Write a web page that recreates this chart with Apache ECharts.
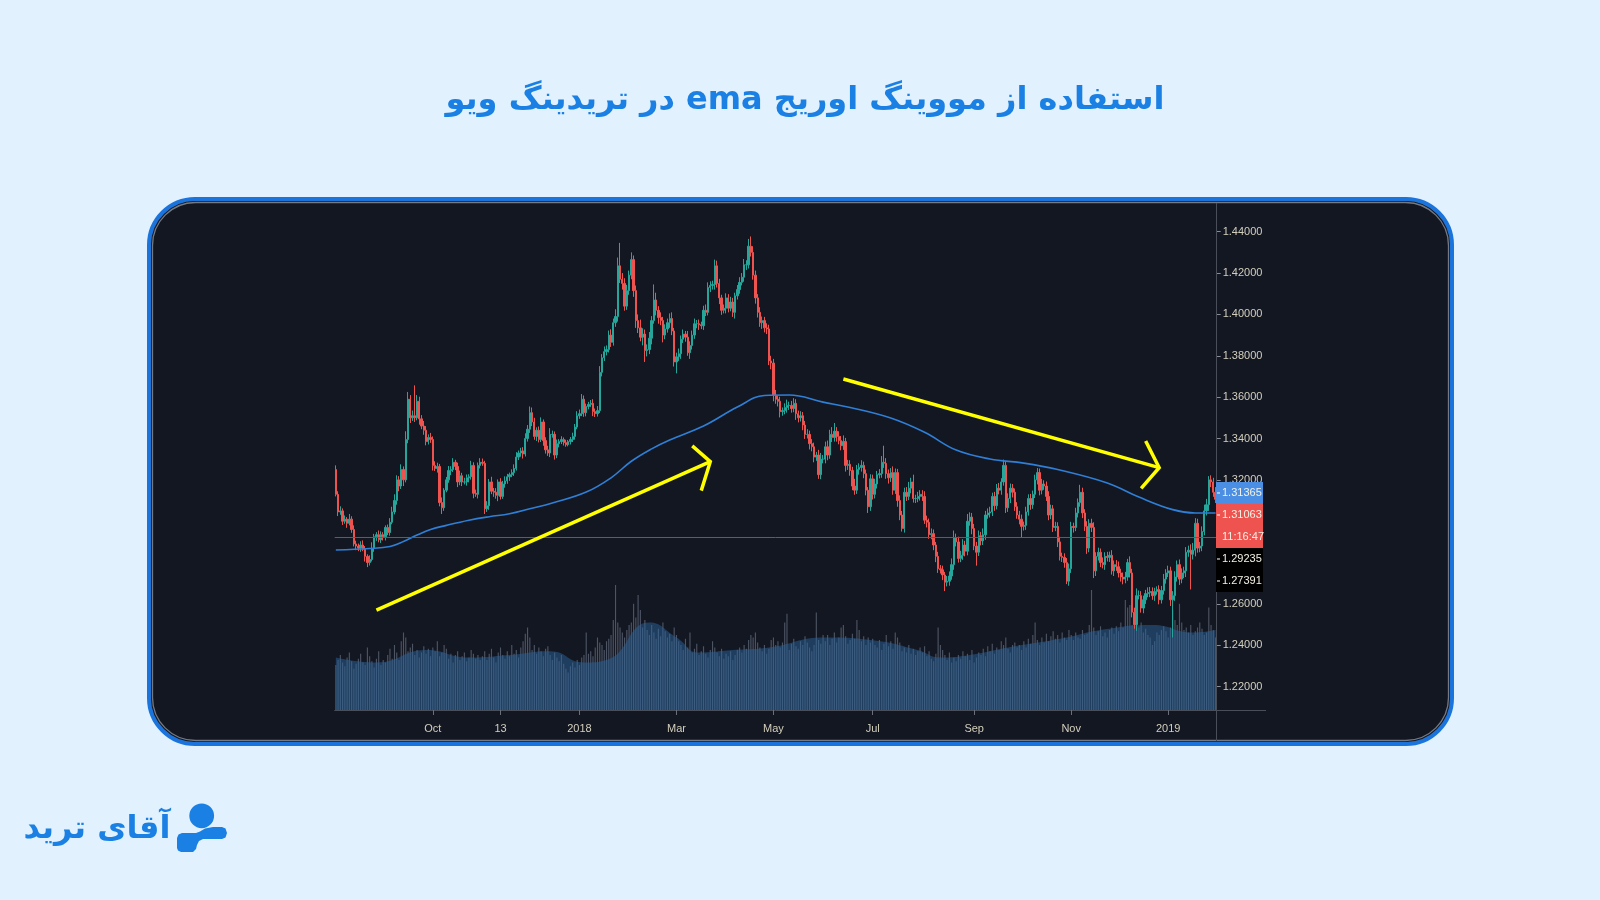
<!DOCTYPE html>
<html>
<head>
<meta charset="utf-8">
<script src="https://cdn.jsdelivr.net/npm/echarts@6/dist/echarts.min.js"></script>
<style>html,body{margin:0;padding:0;background:#e1f1fd;}#c{width:1600px;height:900px;}</style>
</head>
<body>
<div id="c"></div>
<script>
// ---------- DATA (GBP/USD daily, Aug 2017 - Jan 2019) ----------
const startDate = [2017, 7, 2];
const firstOpen = 1.3250;
const closes = [
  // Aug 2017
  1.3130,1.3045,1.3050,1.3000,1.3010,1.2990,1.3010,1.2960,1.2890,1.2880,1.2870,1.2885,1.2865,1.2830,1.2800,1.2815,1.2870,1.2925,1.2935,1.2910,1.2935,1.2925,
  // Sep 2017
  1.2970,1.2945,1.2995,1.3045,1.3100,1.3200,1.3170,1.3250,1.3200,1.3395,1.3590,1.3500,1.3510,1.3500,1.3580,1.3495,1.3460,1.3440,1.3385,1.3405,1.3395,
  // Oct 2017
  1.3270,1.3255,1.3265,1.3090,1.3065,1.3150,1.3200,1.3245,1.3250,1.3285,1.3265,1.3190,1.3220,1.3190,1.3190,1.3210,1.3215,1.3270,1.3135,1.3130,1.3270,1.3285,
  // Nov 2017
  1.3280,1.3060,1.3075,1.3190,1.3145,1.3140,1.3125,1.3190,1.3120,1.3180,1.3195,1.3215,1.3225,1.3235,1.3255,1.3310,1.3330,1.3340,1.3325,1.3400,1.3445,1.3525,
  // Dec 2017
  1.3480,1.3410,1.3440,1.3395,1.3480,1.3390,1.3345,1.3330,1.3420,1.3420,1.3320,1.3375,1.3385,1.3395,1.3380,1.3370,1.3385,1.3395,1.3410,1.3455,1.3510,
  // Jan 2018
  1.3520,1.3590,1.3525,1.3555,1.3565,1.3570,1.3530,1.3520,1.3535,1.3720,1.3790,1.3820,1.3830,1.3900,1.3865,1.3960,1.3990,1.4235,1.4170,1.4150,1.4040,1.4115,1.4190,
  // Feb 2018
  1.4265,1.4115,1.3970,1.3935,1.3890,1.3905,1.3825,1.3830,1.3885,1.3970,1.4070,1.4020,1.3985,1.3970,1.3900,1.3930,1.3960,1.3980,1.3920,1.3770,
  // Mar 2018
  1.3795,1.3810,1.3880,1.3905,1.3890,1.3815,1.3850,1.3900,1.3955,1.3955,1.3950,1.3945,1.4020,1.4010,1.4130,1.4140,1.4145,1.4235,1.4150,1.4080,1.4020,1.4030,
  // Apr 2018
  1.4080,1.4030,1.4060,1.4010,1.4090,1.4120,1.4155,1.4180,1.4240,1.4240,1.4330,1.4300,1.4190,1.4080,1.4010,1.3960,1.3970,1.3935,1.3930,1.3775,1.3765,
  // May 2018
  1.3610,1.3590,1.3580,1.3530,1.3535,1.3550,1.3560,1.3560,1.3545,1.3570,1.3520,1.3500,1.3510,1.3465,1.3420,1.3420,1.3375,1.3360,1.3310,1.3320,1.3225,1.3300,1.3300,
  // Jun 2018
  1.3360,1.3320,1.3420,1.3405,1.3435,1.3410,1.3390,1.3365,1.3385,1.3270,1.3275,1.3245,1.3170,1.3150,1.3250,1.3260,1.3270,1.3230,1.3150,1.3070,1.3205,
  // Jul 2018
  1.3130,1.3180,1.3225,1.3230,1.3285,1.3280,1.3230,1.3210,1.3235,1.3150,1.3235,1.3100,1.3030,1.2965,1.3140,1.3120,1.3160,1.3190,1.3110,1.3110,1.3120,1.3130,
  // Aug 2018
  1.3120,1.3005,1.2995,1.2935,1.2940,1.2885,1.2830,1.2770,1.2765,1.2740,1.2705,1.2710,1.2735,1.2790,1.2920,1.2900,1.2820,1.2835,1.2885,1.2855,1.3000,1.3020,1.2965,
  // Sep 2018
  1.2880,1.2850,1.2930,1.2905,1.2935,1.3030,1.3040,1.3045,1.3120,1.3075,1.3160,1.3150,1.3190,1.3270,1.3065,1.3110,1.3160,1.3140,1.3070,1.3030,
  // Oct 2018
  1.3010,1.2975,1.2980,1.3045,1.3110,1.3080,1.3130,1.3200,1.3235,1.3150,1.3180,1.3170,1.3120,1.3030,1.3060,1.2970,1.2975,1.2900,1.2830,1.2825,1.2800,1.2710,1.2770,
  // Nov 2018
  1.2975,1.2970,1.3040,1.3090,1.3140,1.3040,1.2975,1.2870,1.2990,1.2970,1.2760,1.2830,1.2850,1.2800,1.2790,1.2830,1.2825,1.2835,1.2760,1.2790,1.2780,1.2750,
  // Dec 2018
  1.2730,1.2720,1.2730,1.2800,1.2750,1.2560,1.2500,1.2640,1.2640,1.2580,1.2620,1.2650,1.2655,1.2660,1.2640,1.2660,1.2670,1.2620,1.2665,1.2720,1.2750,
  // Jan 2019
  1.2760,1.2620,1.2640,1.2730,1.2790,1.2720,1.2750,1.2760,1.2850,1.2860,1.2840,1.2860,1.2990,1.2870,1.2880,1.2950,1.3050,1.3080,1.3200,1.3190,1.3140,1.3106
];
// wick lengths above / below the body, in pips (0.0001)
const upperWick = [
  20,15,22,12,18,10,25,14,20,16,12,18,22,15,10,20,28,14,12,20,16,12,
  10,14,20,25,30,22,18,25,15,40,35,20,25,147,30,22,18,25,20,15,22,
  15,20,18,12,25,10,14,22,16,20,12,18,25,14,20,16,12,22,15,18,14,20,
  18,12,22,14,25,16,20,12,18,15,22,14,10,16,20,24,12,15,18,25,20,30,
  25,20,14,18,22,12,16,20,30,18,14,20,12,16,10,14,8,12,18,15,22,
  20,25,18,14,12,16,20,15,22,30,18,25,20,22,28,20,35,40,111,30,25,28,22,
  35,20,25,30,40,28,22,25,30,22,75,35,20,25,18,22,20,25,30,15,
  20,25,18,22,15,30,20,22,25,18,20,15,22,28,25,20,18,30,25,22,15,18,
  22,18,25,20,15,22,25,20,28,22,35,47,30,22,18,25,20,18,22,20,25,
  20,25,18,22,15,20,28,18,22,25,20,15,22,18,20,25,18,22,20,15,25,30,20,
  25,30,22,35,40,20,25,22,30,18,22,20,18,35,22,20,25,18,20,15,22,
  20,25,18,22,30,80,25,20,22,30,20,18,25,20,22,25,30,20,35,18,22,20,
  20,25,22,18,25,20,15,22,18,20,15,25,22,30,35,20,25,22,28,20,35,23,20,
  22,20,25,18,30,20,22,25,18,22,20,25,18,28,20,25,22,20,18,22,
  20,22,18,25,20,22,18,25,22,20,25,18,22,25,20,18,22,20,25,18,20,22,25,
  22,18,25,20,36,22,18,25,20,22,25,20,22,18,25,20,22,18,25,20,22,25,
  20,22,25,18,30,20,22,35,25,22,20,18,25,22,20,18,15,20,22,25,18,
  25,20,22,28,20,25,22,20,25,22,28,35,25,22,20,25,30,28,18,22,20,25
];
const lowerWick = [
  10,20,14,18,12,22,10,16,12,20,15,18,10,25,22,14,10,18,20,12,15,18,
  18,12,15,10,12,20,25,14,30,12,18,25,15,20,12,28,15,22,18,14,16,
  25,12,20,18,30,15,10,14,22,12,18,25,16,20,12,18,22,14,24,12,20,15,
  12,25,15,20,14,22,16,28,15,12,18,14,20,12,16,10,14,18,22,12,15,18,
  20,16,22,14,12,25,18,14,20,16,22,15,18,12,14,10,8,14,12,16,10,
  15,12,20,18,14,12,22,16,14,12,20,15,18,14,22,16,20,25,18,30,22,18,20,
  20,30,35,25,20,40,55,28,22,30,15,25,30,22,35,20,18,25,20,22,
  55,20,25,18,22,15,30,20,18,22,25,16,20,18,15,22,20,25,20,30,22,15,
  25,20,15,22,30,18,20,15,22,25,18,20,22,28,25,20,30,22,25,20,30,
  30,22,25,28,20,18,25,22,20,18,30,22,18,25,22,20,28,22,25,18,20,22,20,
  20,25,18,22,20,25,18,22,20,30,22,25,20,22,18,25,20,22,25,30,20,
  25,20,22,18,20,22,25,28,20,22,18,30,25,15,20,22,18,25,20,22,18,20,
  22,18,25,20,22,25,28,20,18,25,43,20,22,18,25,22,20,18,22,25,20,22,28,
  20,65,18,22,20,25,18,22,20,25,18,20,22,18,25,20,22,25,20,18,
  25,53,20,22,18,25,20,18,22,25,20,18,22,25,20,22,18,25,20,22,25,14,22,
  20,25,18,22,20,25,22,28,20,22,35,25,20,22,18,25,20,22,18,25,20,22,
  22,25,20,18,22,25,20,30,18,22,25,20,18,22,20,25,15,22,18,20,22,
  20,30,182,25,22,28,20,25,30,22,170,25,30,22,20,25,18,22,30,25,22,18
];
// volume (relative units, 0-100)
const volumes = [
  36,40,44,38,35,42,46,39,33,37,41,45,38,36,50,43,39,34,41,47,36,40,
  38,44,49,41,52,46,40,55,62,58,47,50,53,44,48,42,46,51,45,49,43,
  50,47,55,43,46,52,49,41,45,38,44,47,40,43,46,39,42,48,45,41,44,40,
  43,47,40,45,49,42,38,46,50,44,41,47,43,52,45,48,42,50,55,61,66,58,
  48,52,45,50,47,43,49,51,44,40,46,42,39,44,37,33,30,35,38,34,40,
  36,42,44,62,45,47,43,50,58,54,52,48,55,57,60,72,100,70,66,62,58,64,68,
  70,85,74,92,80,66,72,64,60,68,62,57,65,59,70,63,58,61,55,66,
  60,55,52,48,57,50,62,46,49,53,44,47,51,45,42,48,55,50,46,43,49,41,
  45,43,47,40,44,48,50,46,52,49,56,60,58,62,54,50,47,52,45,49,56,
  58,52,55,50,54,70,77,48,53,57,51,49,55,52,59,54,50,47,52,78,56,53,60,
  55,60,52,57,62,54,58,66,68,59,53,56,61,57,72,64,55,59,52,58,54,
  57,52,50,56,48,53,60,51,55,49,62,58,54,47,50,46,52,45,49,44,47,50,
  46,51,43,47,41,39,45,66,52,48,44,40,46,38,42,39,44,41,47,43,45,40,48,
  38,42,46,44,49,43,51,47,53,45,50,48,55,52,58,49,46,52,54,50,
  52,48,55,50,57,53,60,70,56,52,58,54,61,55,59,63,57,60,54,62,58,56,64,
  60,56,62,58,57,64,60,61,68,96,66,60,63,67,59,62,58,64,66,61,67,63,
  70,66,88,82,84,68,72,64,66,70,62,65,60,58,52,55,62,60,64,67,63,
  58,66,80,72,68,85,70,64,66,62,68,60,63,66,70,65,60,62,82,68,64,58
];
// EMA line read at [candle index, price]
const emaPoints = [[0,1.2861],[15,1.2868],[24,1.2878],[30,1.2902],[36,1.2933],[42,1.2960],[49,1.2980],[59,1.3005],[68,1.3022],[77,1.3036],[86,1.3060],[96,1.3088],[111,1.3141],[122,1.3210],[131,1.3290],[140,1.3350],[148,1.3393],[163,1.3460],[178,1.3552],[190,1.3608],[201,1.3610],[216,1.3576],[228,1.3550],[246,1.3499],[261,1.3430],[275,1.3344],[290,1.3301],[305,1.3281],[320,1.3250],[342,1.3185],[356,1.3117],[371,1.3056],[381,1.3040],[390,1.3040]];
// volume moving average read at [candle index, value]
const volMaPoints = [[0,42],[18,38],[40,48],[59,42],[77,44],[95,47],[110,38],[120,40],[139,70],[151,58],[161,46],[176,48],[192,50],[217,58],[237,56],[258,48],[268,42],[281,44],[298,50],[324,58],[339,64],[362,68],[380,62],[390,64]];
const priceTicks = [1.22,1.24,1.26,1.28,1.30,1.32,1.34,1.36,1.38,1.40,1.42,1.44];
const timeTickDates = ['2017-10-02','2017-11-13','2018-01-01','2018-03-01','2018-05-01','2018-07-02','2018-09-03','2018-11-01','2019-01-01'];
const timeTickLabels = ['Oct','13','2018','Mar','May','Jul','Sep','Nov','2019'];
const levelLine = 1.29235;
const tagValues = [1.31365, 1.31063, null, 1.29235, 1.27391];
const tagTexts = ['1.31365', '1.31063', '11:16:47', '1.29235', '1.27391'];
const tagColors = ['#4a8fe3', '#ef5350', '#ef5350', '#000000', '#000000'];
// yellow arrows: [candle index, price]
const arrowLines = [
  { from: [18, 1.2570], tip: [166, 1.3288], armA: [158, 1.3364], armB: [162, 1.3148] },
  { from: [225, 1.3688], tip: [365, 1.3259], armA: [359, 1.3388], armB: [357, 1.3159] }
];
const titleText = 'استفاده از مووینگ اوریج ema در تریدینگ ویو';
const logoText = 'آقای ترید';

// ---------- BUILD ----------
const dates = [];
{
  let t = Date.UTC(startDate[0], startDate[1], startDate[2]);
  while (dates.length < closes.length) {
    const d = new Date(t); const wd = d.getUTCDay();
    if (wd !== 0 && wd !== 6) dates.push(d.toISOString().slice(0, 10));
    t += 86400000;
  }
}
const candles = closes.map((c, i) => {
  const o = i === 0 ? firstOpen : closes[i - 1];
  const hi = Math.max(o, c) + upperWick[i] / 10000;
  const lo = Math.min(o, c) - lowerWick[i] / 10000;
  return [o, c, +lo.toFixed(4), +hi.toFixed(4)];
});
const tickMap = new Map(timeTickDates.map((d, i) => [d, timeTickLabels[i]]));
const narrow = "'Liberation Sans Narrow','Liberation Sans',sans-serif";
const axisTextColor = '#d3cfbd';

const chart = echarts.init(document.getElementById('c'), null, { renderer: 'canvas' });
const GL = 334.7, GW = 882;
chart.setOption({
  backgroundColor: '#e1f1fd',
  animation: false,
  grid: [
    { left: GL, top: 200, width: GW, height: 510 },
    { left: GL, top: 585, width: GW, height: 125 }
  ],
  xAxis: [
    { type: 'category', gridIndex: 0, data: dates, show: false },
    { type: 'category', gridIndex: 1, data: dates,
      axisLine: { show: true, lineStyle: { color: '#4a4e59', width: 1 } },
      axisTick: { show: true, alignWithLabel: true, length: 5, interval: (i, v) => tickMap.has(v), lineStyle: { color: '#6a6e78' } },
      axisLabel: { show: true, interval: (i, v) => tickMap.has(v), formatter: v => tickMap.get(v) || '', color: axisTextColor, fontSize: 11, fontFamily: narrow, margin: 13 },
      splitLine: { show: false } }
  ],
  yAxis: [
    { type: 'value', gridIndex: 0, position: 'right', min: 1.20871, max: 1.45533, scale: true,
      axisLine: { show: false }, splitLine: { show: false },
      axisTick: { show: true, length: 4, customValues: priceTicks, lineStyle: { color: '#8a8d96' } },
      axisLabel: { show: true, customValues: priceTicks, formatter: v => v.toFixed(5), color: axisTextColor, fontSize: 11, fontFamily: narrow, margin: 6 } },
    { type: 'value', gridIndex: 1, min: 0, max: 100, show: false }
  ],
  series: [
    { type: 'bar', name: 'volume', xAxisIndex: 1, yAxisIndex: 1, data: volumes, barWidth: '50%',
      itemStyle: { color: 'rgba(125,135,155,0.55)' }, z: 1, silent: true },
    { type: 'line', name: 'volMA', xAxisIndex: 1, yAxisIndex: 1, data: volMaPoints, smooth: 0.5, showSymbol: false,
      lineStyle: { width: 0 }, areaStyle: { color: 'rgba(44,100,156,0.72)' }, z: 2, silent: true },
    { type: 'candlestick', name: 'GBPUSD', xAxisIndex: 0, yAxisIndex: 0, data: candles, barWidth: '80%', z: 3,
      itemStyle: { color: '#26a69a', color0: '#ef5350', borderColor: '#26a69a', borderColor0: '#ef5350', borderWidth: 1 } },
    { type: 'line', name: 'EMA', xAxisIndex: 0, yAxisIndex: 0, data: emaPoints, smooth: 0.4, showSymbol: false,
      lineStyle: { color: '#2f7fd6', width: 1.6 }, z: 4, silent: true,
      markLine: { silent: true, precision: 5, symbol: ['none', 'none'], label: { show: false },
        lineStyle: { color: '#2a7376', type: 'solid', width: 1, opacity: 1 },
        data: [{ yAxis: levelLine, lineStyle: { color: '#2a7376', type: 'solid', width: 1 } }] } }
  ]
});

// ---------- overlays ----------
const g = [];
g.push({ type: 'rect', z: -10, silent: true, shape: { x: 149, y: 199, width: 1303, height: 545, r: 46 },
  style: { fill: '#131722', stroke: '#1b74dc', lineWidth: 4 } });
g.push({ type: 'rect', z: -9, silent: true, shape: { x: 152.5, y: 202.5, width: 1296, height: 538, r: 43 },
  style: { fill: null, stroke: 'rgba(150,156,166,0.75)', lineWidth: 1.3 } });
g.push({ type: 'line', z: 50, silent: true, shape: { x1: 1216.5, y1: 203, x2: 1216.5, y2: 741 }, style: { stroke: '#4a4e59', lineWidth: 1 } });
g.push({ type: 'line', z: 50, silent: true, shape: { x1: 1216.5, y1: 710.5, x2: 1266, y2: 710.5 }, style: { stroke: '#4a4e59', lineWidth: 1 } });
g.push({ type: 'text', z: 60, silent: true, x: 805, y: 101,
  style: { text: '\u202B' + titleText + '\u202C', fill: '#1a80e4', fontSize: 32, fontWeight: 'bold', fontFamily: "'DejaVu Sans', sans-serif", align: 'center', verticalAlign: 'middle' } });
g.push({ type: 'circle', z: 60, silent: true, shape: { cx: 201.7, cy: 815.8, r: 12.4 }, style: { fill: '#1a80e4' } });
g.push({ type: 'polygon', z: 60, silent: true,
  shape: { points: [[177,838],[178.5,834.5],[182,833],[196,833],[200,831.5],[205,828.5],[213,827],[222,827],[225.5,828.5],[227,833],[225.5,837.5],[222,839],[203,839],[199,841],[197,845],[196,849],[193,852],[181,852],[178,850.5],[177,848]] },
  style: { fill: '#1a80e4' } });
g.push({ type: 'text', z: 60, silent: true, x: 97, y: 830,
  style: { text: logoText, fill: '#1a80e4', fontSize: 32, fontWeight: 'bold', fontFamily: "'DejaVu Sans', sans-serif", align: 'center', verticalAlign: 'middle' } });
const P = p => chart.convertToPixel({ gridIndex: 0 }, p);
arrowLines.forEach(a => {
  const f = P(a.from), t = P(a.tip);
  g.push({ type: 'line', z: 70, silent: true, shape: { x1: f[0], y1: f[1], x2: t[0], y2: t[1] },
    style: { stroke: '#ffff00', lineWidth: 3.5 } });
  g.push({ type: 'polyline', z: 70, silent: true, shape: { points: [P(a.armA), t, P(a.armB)] },
    style: { stroke: '#ffff00', lineWidth: 3.5, fill: null } });
});
let prevBottom = -1e9;
tagValues.forEach((v, i) => {
  const cy = v === null ? prevBottom + 11 : Math.max(chart.convertToPixel({ yAxisIndex: 0 }, v), prevBottom + 11);
  const top = cy - 11;
  prevBottom = top + 22;
  g.push({ type: 'rect', z: 80, silent: true, shape: { x: 1216, y: top, width: 47, height: 22 }, style: { fill: tagColors[i] } });
  if (v !== null) g.push({ type: 'line', z: 81, silent: true, shape: { x1: 1217, y1: cy, x2: 1220, y2: cy }, style: { stroke: '#ffffff', lineWidth: 1 } });
  g.push({ type: 'text', z: 81, silent: true, x: 1222, y: cy,
    style: { text: tagTexts[i], fill: '#f4f1e4', fontSize: 11, fontFamily: narrow, align: 'left', verticalAlign: 'middle' } });
});
chart.setOption({ graphic: g });
</script>
</body>
</html>
